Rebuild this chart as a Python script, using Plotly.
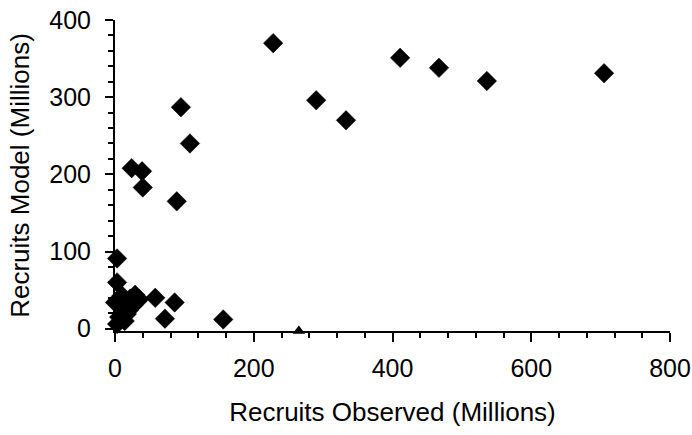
import plotly.graph_objects as go

observed = [228, 290, 333, 411, 467, 536, 705,
            95, 108, 24, 39, 40, 89,
            3, 3, 58, 86, 72, 156,
            22, 12, 32, 17, 3, 0, 10, 29, 6, 20, 35, 26, 14]
model = [370, 296, 270, 351, 338, 321, 331,
         287, 240, 208, 204, 183, 165,
         91, 60, 40, 34, 13, 12,
         39, 27, 36, 19, 6, 34, 43, 44, 15, 24, 38, 30, 10]

tri_x = [265]
tri_y = [-3]

font = "Liberation Sans, Arial, sans-serif"

fig = go.Figure()
fig.add_trace(go.Scatter(x=observed, y=model, mode="markers",
                         marker=dict(symbol="diamond", size=15, color="black",
                                     line=dict(color="black", width=0.5)),
                         cliponaxis=False, showlegend=False))
fig.add_trace(go.Scatter(x=tri_x, y=tri_y, mode="markers",
                         marker=dict(symbol="triangle-up", size=11, color="black"),
                         cliponaxis=False, showlegend=False))

fig.update_layout(
    width=692, height=435,
    margin=dict(l=115, r=22, t=20, b=104, autoexpand=False),
    paper_bgcolor="white", plot_bgcolor="white",
    font=dict(family=font, size=25, color="black"),
    xaxis=dict(range=[0, 800], dtick=200, showgrid=False, zeroline=False,
               automargin=False,
               showline=True, linecolor="black", linewidth=2,
               ticks="outside", ticklen=9, tickwidth=2, tickcolor="black",
               minor=dict(dtick=40, ticks="outside", ticklen=5, tickwidth=2, tickcolor="black"),
               ticklabelstandoff=5,
               title=dict(text="Recruits Observed (Millions)", standoff=22,
                          font=dict(size=26)),
               tickfont=dict(size=25)),
    yaxis=dict(range=[-3, 400], tick0=0, dtick=100, showgrid=False, zeroline=False,
               automargin=False,
               showline=True, linecolor="black", linewidth=2,
               ticks="outside", ticklen=8, tickwidth=2, tickcolor="black",
               minor=dict(tick0=0, dtick=20, ticks="outside", ticklen=5, tickwidth=2, tickcolor="black"),
               ticklabelstandoff=9,
               title=dict(text="Recruits Model (Millions)", standoff=12,
                          font=dict(size=26)),
               tickfont=dict(size=25)),
)

fig.write_html("out.html")
